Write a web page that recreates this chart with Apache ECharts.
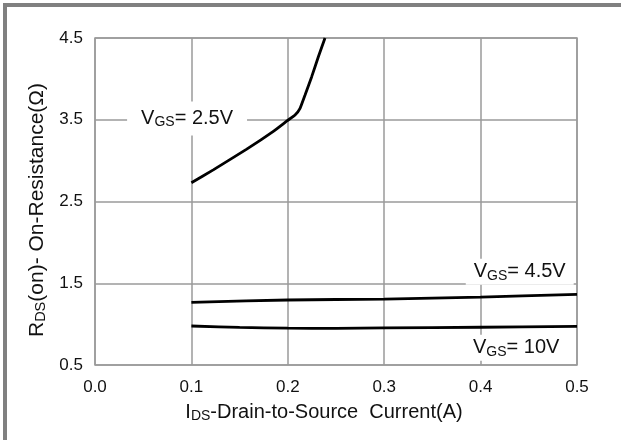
<!DOCTYPE html>
<html><head><meta charset="utf-8">
<script src="https://cdn.jsdelivr.net/npm/echarts@6/dist/echarts.min.js"></script>
<style>
html,body{margin:0;padding:0;background:#fff;}
#frame{position:absolute;left:3px;top:3px;width:618px;height:437px;border-left:4px solid #808080;border-top:4px solid #808080;box-sizing:border-box;}
#chart{position:absolute;left:0;top:0;width:621px;height:440px;}
</style></head><body>
<div id="frame"></div><div id="chart"></div>
<script>
// ---- data ----
const vgs25X = [0.1, 0.1227, 0.157, 0.185, 0.1995, 0.2075, 0.2127, 0.2178, 0.2248, 0.2317, 0.2386];
const vgs25Y = [2.73, 2.887, 3.137, 3.358, 3.489, 3.558, 3.64, 3.80, 4.027, 4.27, 4.50];
const vgs45X = [0.1, 0.2, 0.3, 0.4, 0.5];
const vgs45Y = [1.267, 1.295, 1.307, 1.330, 1.365];
const vgs10X = [0.1, 0.15, 0.2, 0.25, 0.3, 0.4, 0.5];
const vgs10Y = [0.977, 0.96, 0.950, 0.948, 0.953, 0.962, 0.972];
const seriesNames = ['2.5V', '4.5V', '10V'];
const xName = ['I', 'DS', '-Drain-to-Source  Current(A)'];
const yName = ['R', 'DS', '(on)- On-Resistance(\u03A9)'];

const FONT = "'Liberation Sans', Arial, sans-serif";
const TXT = '#111';
function pairs(xs, ys) { return xs.map((x, i) => [x, ys[i]]); }
function richSet(big, small, lh, slh) {
  return {
    n: {fontSize: big, fontFamily: FONT, color: TXT, lineHeight: lh},
    s: {fontSize: small, fontFamily: FONT, color: TXT, lineHeight: slh, verticalAlign: 'bottom'}
  };
}
function subText(parts) { return '{n|' + parts[0] + '}{s|' + parts[1] + '}{n|' + parts[2] + '}'; }
function vgsLabel(name) { return '{n|V}{s|GS}{n|= ' + name + '}'; }

function mark(coord, name, padding) {
  return {
    symbol: 'rect', symbolSize: 1, silent: true,
    itemStyle: {color: 'rgba(0,0,0,0)'},
    label: {
      show: true, position: 'inside',
      formatter: vgsLabel(name),
      rich: richSet(20, 14, 22, 10),
      backgroundColor: '#fff',
      padding: padding
    },
    data: [{coord: coord}]
  };
}

const lineStyle = {color: '#000', width: 2.8};
const chart = echarts.init(document.getElementById('chart'), null, {renderer: 'canvas'});
chart.setOption({
  animation: false,
  backgroundColor: 'transparent',
  grid: {left: 95, top: 38, right: 44, bottom: 75, show: true, borderColor: '#9a9a9a', borderWidth: 1.5, backgroundColor: 'transparent'},
  xAxis: {
    type: 'value', min: 0, max: 0.5, interval: 0.1,
    axisLine: {show: false}, axisTick: {show: false},
    splitLine: {show: true, lineStyle: {color: '#9a9a9a', width: 1.5}},
    axisLabel: {fontSize: 17, fontFamily: FONT, color: TXT, margin: 14, formatter: v => v.toFixed(1)},
    name: subText(xName), nameLocation: 'middle', nameGap: 36,
    nameTextStyle: {rich: richSet(20, 14, 22, 10), padding: [0, 24, 0, 0]}
  },
  yAxis: {
    type: 'value', min: 0.5, max: 4.5, interval: 1,
    axisLine: {show: false}, axisTick: {show: false},
    splitLine: {show: true, lineStyle: {color: '#9a9a9a', width: 1.5}},
    axisLabel: {fontSize: 17, fontFamily: FONT, color: TXT, margin: 12, formatter: v => v.toFixed(1)},
    name: subText(yName), nameLocation: 'middle', nameGap: 42,
    nameTextStyle: {rich: richSet(21, 14.5, 22, 10), padding: [0, 17, 0, 0]}
  },
  series: [
    {type: 'line', name: seriesNames[0], data: pairs(vgs25X, vgs25Y), showSymbol: false, smooth: 0.12, lineStyle: lineStyle,
     markPoint: mark([0.0955, 3.515], seriesNames[0], [6, 14, 6, 14])},
    {type: 'line', name: seriesNames[1], data: pairs(vgs45X, vgs45Y), showSymbol: false, smooth: 0.3, lineStyle: lineStyle,
     markPoint: mark([0.4406, 1.641], seriesNames[1], [2, 8, 2, 8])},
    {type: 'line', name: seriesNames[2], data: pairs(vgs10X, vgs10Y), showSymbol: false, smooth: 0.3, lineStyle: lineStyle,
     markPoint: mark([0.4369, 0.712], seriesNames[2], [2, 8, 2, 8])}
  ]
});
</script></body></html>
